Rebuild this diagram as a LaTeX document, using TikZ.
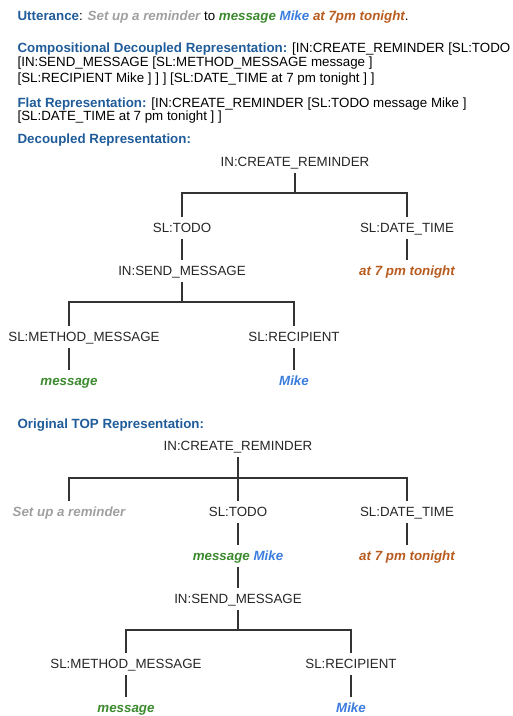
\documentclass[tikz,border=0pt]{standalone}
\usepackage{fontspec}
\setmainfont{Liberation Sans}
\usetikzlibrary{positioning}

\definecolor{hblue}{HTML}{1F5C99}
\definecolor{tgrey}{HTML}{A0A0A0}
\definecolor{tgreen}{HTML}{3C8A2E}
\definecolor{tblue}{HTML}{3B7DDD}
\definecolor{torange}{HTML}{B85B1E}

\newcommand{\hd}[1]{\textcolor{hblue}{\bfseries #1}}
\newcommand{\tokw}[2]{\textcolor{#1}{\bfseries\itshape #2}}

\begin{document}
\begin{tikzpicture}[x=0.75pt, y=-0.75pt, line width=0.9pt, draw=black!80]
        \tikzset{hdr/.style={anchor=west, inner sep=0pt, text height=7pt, text depth=0pt, font=\fontsize{10}{12}\selectfont},
                 tn/.style={inner sep=0pt, minimum height=15pt, text height=7pt, text depth=0pt, font=\fontsize{10}{12}\selectfont, text=black!85}}
        \useasboundingbox (0,0) rectangle (512,716);

        % header lines
        \node[hdr] (utt) at (17,16) {\hd{Utterance}: \tokw{tgrey}{Set up a reminder} to \tokw{tgreen}{message} \tokw{tblue}{Mike} \tokw{torange}{at 7pm tonight}.};
        \node[hdr] (comp_a) at (17,48) {\hd{Compositional Decoupled Representation:} [IN:CREATE\_REMINDER [SL:TODO};
        \node[hdr] (comp_b) at (17,62) {[IN:SEND\_MESSAGE [SL:METHOD\_MESSAGE message ]};
        \node[hdr] (comp_c) at (17,78) {[SL:RECIPIENT Mike ] ] ] [SL:DATE\_TIME at 7 pm tonight ] ]};
        \node[hdr] (flat_a) at (17,103) {\hd{Flat Representation:} [IN:CREATE\_REMINDER [SL:TODO message Mike ]};
        \node[hdr] (flat_b) at (17,116) {[SL:DATE\_TIME at 7 pm tonight ] ]};
        \node[hdr] (dec) at (17,139) {\hd{Decoupled Representation:}};
        \node[hdr] (top) at (17,424) {\hd{Original TOP Representation:}};

        % decoupled tree
        \node[tn] (cr_1) at (295,162) {IN:CREATE\_REMINDER};
        \node[tn] (todo_1) at (182,228) {SL:TODO};
        \node[tn] (dt_1) at (407,228) {SL:DATE\_TIME};
        \node[tn] (sm_1) at (182,271) {IN:SEND\_MESSAGE};
        \node[tn] (time_1) at (407,271) {\tokw{torange}{at 7 pm tonight}};
        \node[tn] (mm_1) at (84,337) {SL:METHOD\_MESSAGE};
        \node[tn] (rc_1) at (294,337) {SL:RECIPIENT};
        \node[tn] (msg_1) at (69,381) {\tokw{tgreen}{message}};
        \node[tn] (mike_1) at (294,381) {\tokw{tblue}{Mike}};
        \coordinate (f_1) at (295,193);
        \coordinate (f_2) at (182,302);

        \draw (cr_1.south) -- (f_1);
        \draw (todo_1.north) |- (f_1) -| (dt_1.north);
        \draw (todo_1.south) -- (sm_1.north);
        \draw (dt_1.south) -- (time_1.north);
        \draw (sm_1.south) -- (f_2);
        \draw (msg_1 |- mm_1.north) |- (f_2) -| (rc_1.north);
        \draw (msg_1 |- mm_1.south) -- (msg_1.north);
        \draw (rc_1.south) -- (mike_1.north);

        % original TOP tree
        \node[tn] (cr_2) at (238,446) {IN:CREATE\_REMINDER};
        \node[tn] (setup_2) at (69,512) {\tokw{tgrey}{Set up a reminder}};
        \node[tn] (todo_2) at (238,512) {SL:TODO};
        \node[tn] (dt_2) at (407,512) {SL:DATE\_TIME};
        \node[tn] (mm_2t) at (238,556) {\tokw{tgreen}{message} \tokw{tblue}{Mike}};
        \node[tn] (time_2) at (407,556) {\tokw{torange}{at 7 pm tonight}};
        \node[tn] (sm_2) at (238,599) {IN:SEND\_MESSAGE};
        \node[tn] (mm_2) at (126,664) {SL:METHOD\_MESSAGE};
        \node[tn] (rc_2) at (351,664) {SL:RECIPIENT};
        \node[tn] (msg_2) at (126,708) {\tokw{tgreen}{message}};
        \node[tn] (mike_2) at (351,708) {\tokw{tblue}{Mike}};
        \coordinate (f_3) at (238,478);
        \coordinate (f_4) at (238,630);

        \draw (cr_2.south) -- (todo_2.north);
        \draw (setup_2.north) |- (f_3) -| (dt_2.north);
        \draw (todo_2.south) -- (mm_2t.north);
        \draw (dt_2.south) -- (time_2.north);
        \draw (mm_2t.south) -- (sm_2.north);
        \draw (sm_2.south) -- (f_4);
        \draw (mm_2.north) |- (f_4) -| (rc_2.north);
        \draw (mm_2.south) -- (msg_2.north);
        \draw (rc_2.south) -- (mike_2.north);
\end{tikzpicture}
\end{document}
